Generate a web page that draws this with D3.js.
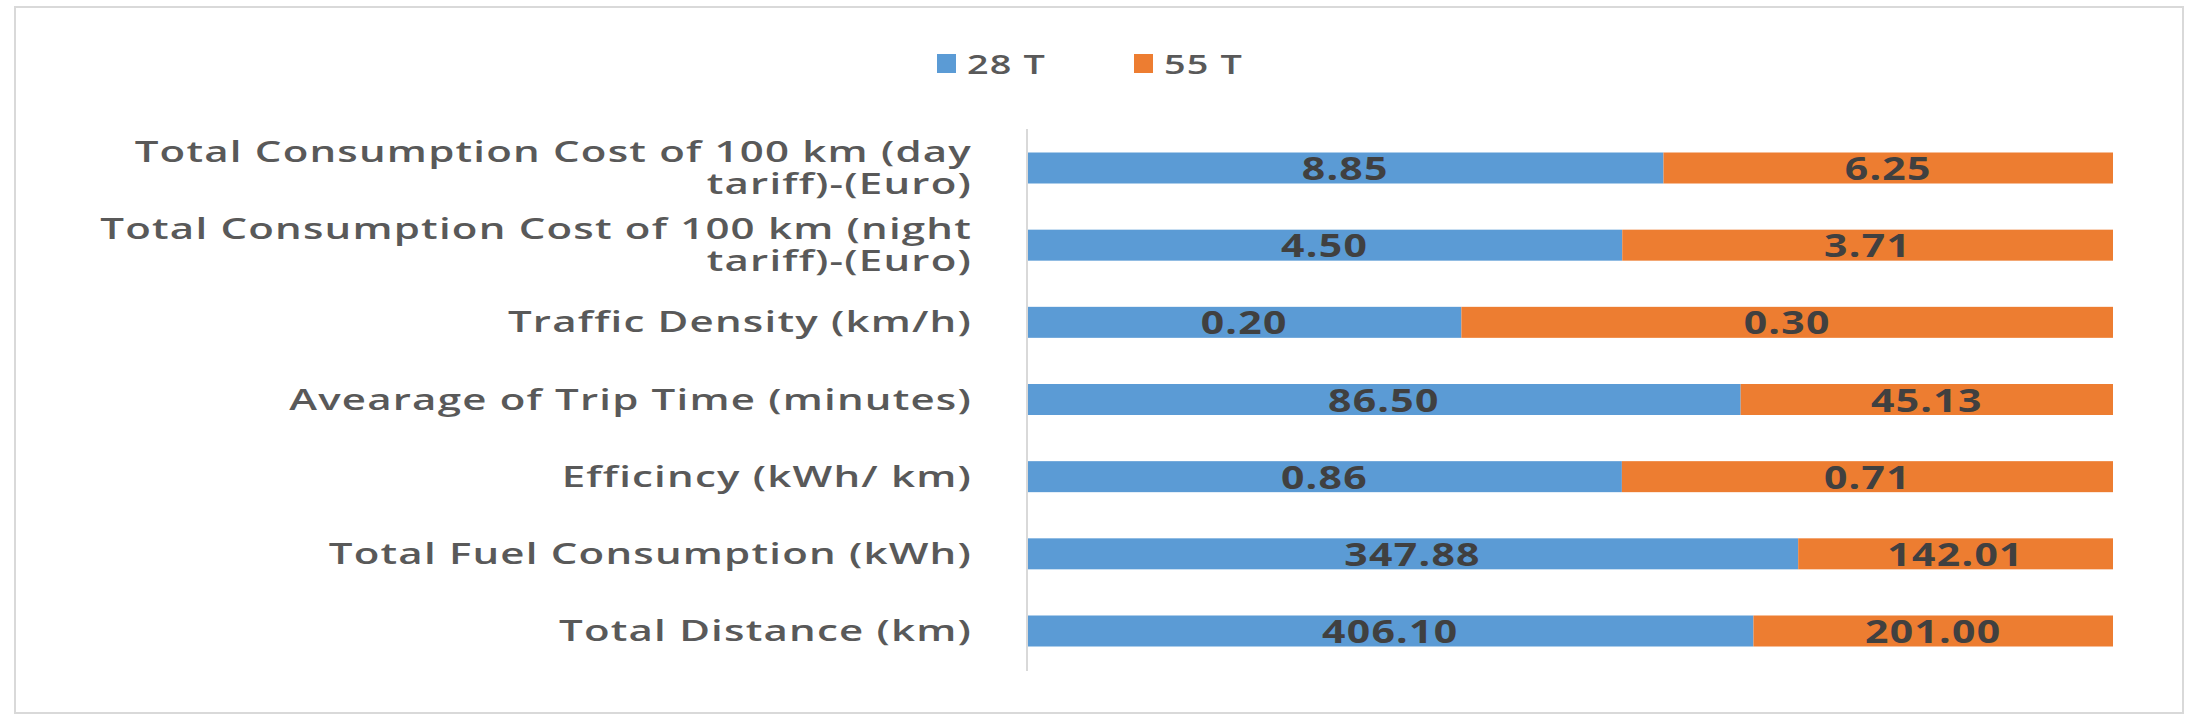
<!DOCTYPE html>
<html><head><meta charset="utf-8">
<script src="https://cdn.jsdelivr.net/npm/d3@7"></script>
<style>body{margin:0;background:#fff}</style></head>
<body><svg id="c" width="2200" height="720"></svg>
<script>
const categories = [
 ["Total Consumption Cost of 100 km (day","tariff)-(Euro)"],
 ["Total Consumption Cost of 100 km (night","tariff)-(Euro)"],
 ["Traffic Density (km/h)"],
 ["Avearage of Trip Time (minutes)"],
 ["Efficincy (kWh/ km)"],
 ["Total Fuel Consumption (kWh)"],
 ["Total Distance (km)"]
];
const series28 = [8.85, 4.50, 0.20, 86.50, 0.86, 347.88, 406.10];
const series55 = [6.25, 3.71, 0.30, 45.13, 0.71, 142.01, 201.00];
const seriesNames = ["28 T", "55 T"];
const colors = ["#5b9bd5", "#ed7d31"];

const svg = d3.select("#c");
svg.append("rect").attr("x",15).attr("y",7).attr("width",2168).attr("height",706)
  .attr("fill","#fff").attr("stroke","#d9d9d9").attr("stroke-width",2);

const x = d3.scaleLinear().domain([0,1]).range([1027,2113]);
const y = d3.scalePoint().domain(d3.range(categories.length)).range([168,631]);
const bh = 31;

const font = "Open Sans, DejaVu Sans, sans-serif";
categories.forEach((lines,i)=>{
  const cy = y(i);
  const n = lines.length;
  lines.forEach((l,j)=>{
    svg.append("text").attr("text-anchor","end")
      .attr("transform",`translate(972,${cy+10+(j-(n-1)/2)*32}) scale(1.5,1)`)
      .attr("font-family",font).attr("font-size",28).attr("font-weight",600)
      .attr("fill","#595959").attr("letter-spacing",0.8).text(l);
  });
  const tot = series28[i]+series55[i];
  const segs = [[0,series28[i]/tot,series28[i]],[series28[i]/tot,1,series55[i]]];
  segs.forEach((s,k)=>{
    svg.append("rect").attr("x",x(s[0])).attr("y",cy-bh/2).attr("width",x(s[1])-x(s[0]))
      .attr("height",bh).attr("fill",colors[k]);
    svg.append("text").attr("text-anchor","middle")
      .attr("transform",`translate(${(x(s[0])+x(s[1]))/2},${cy+12}) scale(1.28,1)`)
      .attr("font-family",font).attr("font-size",32).attr("font-weight",700)
      .attr("fill","#404040").attr("letter-spacing",1).text(s[2].toFixed(2));
  });
});
svg.append("line").attr("x1",1027).attr("x2",1027).attr("y1",129).attr("y2",671)
  .attr("stroke","#d9d9d9").attr("stroke-width",2);

const lg = [[937,seriesNames[0]],[1134,seriesNames[1]]];
lg.forEach((d,k)=>{
  svg.append("rect").attr("x",d[0]).attr("y",54).attr("width",19).attr("height",19).attr("fill",colors[k]);
  svg.append("text").attr("transform",`translate(${d[0]+30},74) scale(1.4,1)`)
    .attr("font-family",font).attr("font-size",27)
    .attr("font-weight",600).attr("fill","#595959").attr("letter-spacing",0.8).text(d[1]);
});
</script></body></html>
